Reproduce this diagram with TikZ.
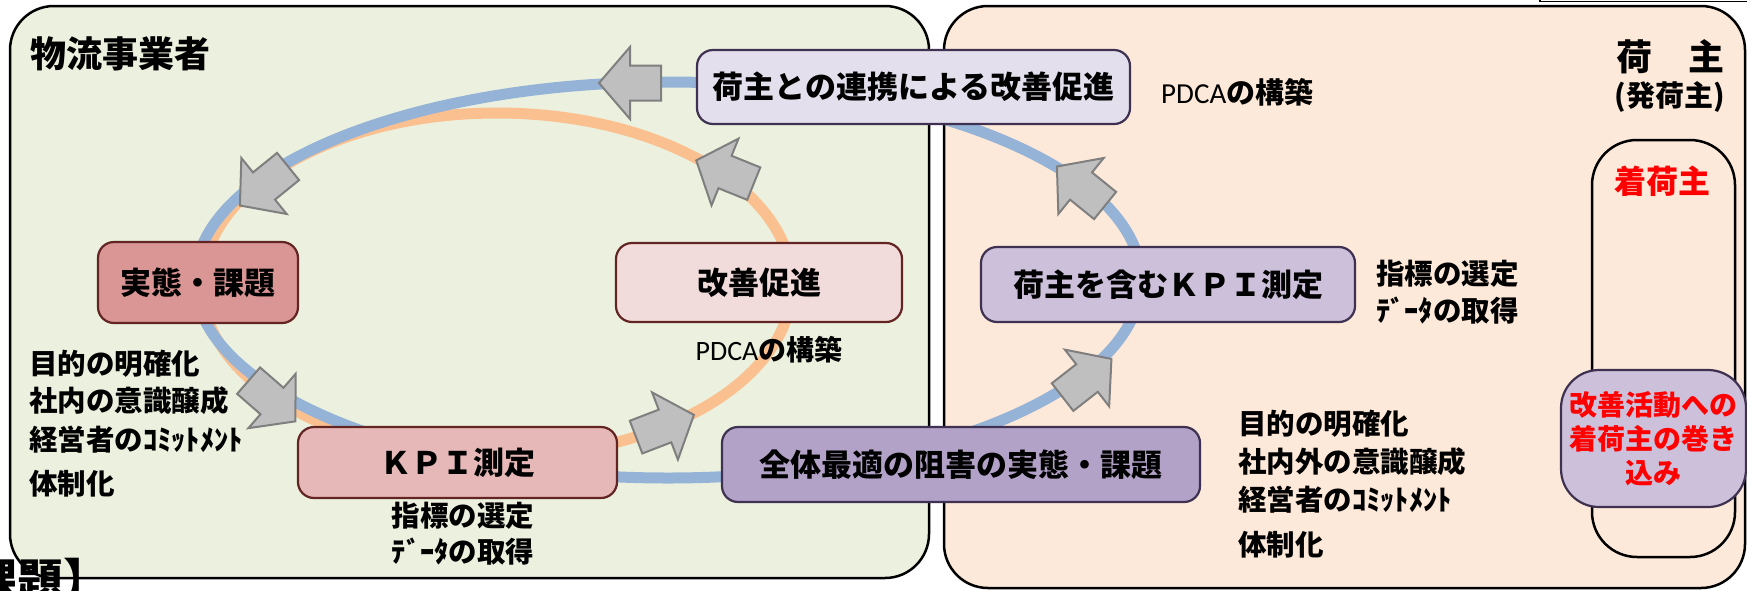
\documentclass[tikz,border=0pt]{standalone}
\usepackage{fontspec}
\setmainfont{Noto Sans CJK JP}
\newfontfamily\carl{Carlito}
\definecolor{blueL}{RGB}{149,179,215}
\definecolor{orangeL}{RGB}{250,192,144}
\definecolor{lgreen}{RGB}{235,241,222}
\definecolor{lpeach}{RGB}{253,233,217}
\definecolor{dred}{RGB}{99,37,35}
\definecolor{dpurple}{RGB}{63,49,81}
\definecolor{pinkA}{RGB}{218,150,148}
\definecolor{pinkB}{RGB}{230,184,183}
\definecolor{pinkC}{RGB}{242,220,219}
\definecolor{lavA}{RGB}{228,223,236}
\definecolor{lavB}{RGB}{204,192,218}
\definecolor{lavC}{RGB}{179,162,199}
\definecolor{arrfill}{RGB}{191,191,191}
\definecolor{arrdraw}{RGB}{127,127,127}
\newcommand\garrow[3]{\draw[grayarr, shift={(#1,#2)}, rotate=#3] (-31,-17.5) -- (0,-17.5) -- (0,-36) -- (31,0) -- (0,36) -- (0,17.5) -- (-31,17.5) -- cycle;}
\begin{document}
\begin{tikzpicture}[x=1pt,y=-1pt,
  panel/.style={draw=black, line width=2.5, rounded corners=44},
  grayarr/.style={fill=arrfill, draw=arrdraw, line width=2, line join=miter},
  box/.style={draw, line width=2.2, rounded corners=16, inner sep=0, font=\bfseries\fontsize{31}{36}\selectfont},
  redbox/.style={box, draw=dred},
  purbox/.style={box, draw=dpurple},
  lbl/.style={inner sep=0, font=\bfseries\fontsize{28.5}{30}\selectfont},
  loop/.style={line width=11}]
\useasboundingbox (0,0) rectangle (1747,590);
% panels
\draw[panel, fill=lgreen] (10,6) rectangle (929,578);
\draw[panel, fill=lpeach] (944,6) rectangle (1745,588);
\draw[line width=1.5] (1540,-10) -- (1540,1.5) -- (1760,1.5);
% loops
\draw[loop, orangeL] (497,285) ellipse [x radius=295pt, y radius=172pt];
\draw[loop, blueL] (668,280) ellipse [x radius=473pt, y radius=198pt];
% arrows
\garrow{630}{83}{180}
\garrow{264}{186}{219}
\garrow{272}{401}{319}
\garrow{665}{426}{21}
\garrow{725}{172}{158}
\garrow{1087}{378}{38}
\garrow{1081}{186}{141}
% inner rect
\draw[line width=2.5, rounded corners=45] (1592,140) rectangle (1735,557);
% boxes
\node[redbox, fill=pinkA, minimum width=200, minimum height=81] (jittai) at (198,282.5) {実態・課題};
\node[redbox, fill=pinkB, minimum width=319, minimum height=71] (kpi) at (457.5,462.5) {ＫＰＩ測定};
\node[redbox, fill=pinkC, minimum width=286, minimum height=79] (kaizen) at (759,282.5) {改善促進};
\node[purbox, fill=lavA, minimum width=433, minimum height=74] (renkei) at (913.5,87) {荷主との連携による改善促進};
\node[purbox, fill=lavB, minimum width=374, minimum height=75] (nkpi) at (1168,284.5) {荷主を含むＫＰＩ測定};
\node[purbox, fill=lavC, minimum width=478, minimum height=75] (zentai) at (961,464.5) {全体最適の阻害の実態・課題};
\node[purbox, fill=lavB, minimum width=185, minimum height=137, rounded corners=38, align=center, text=red, font=\bfseries\fontsize{28}{34}\selectfont] (makikomi) at (1653.5,438.5) {改善活動への\\着荷主の巻き\\込み};
% titles
\node[lbl, anchor=west, font=\bfseries\fontsize{36}{40}\selectfont] (t1) at (30,54) {物流事業者};
\node[lbl, font=\bfseries\fontsize{36}{40}\selectfont] (t2) at (1670,57) {荷　主};
\node[lbl, font=\bfseries\fontsize{29}{32}\selectfont] (t3) at (1670,97) {(発荷主)};
\node[lbl, text=red, font=\bfseries\fontsize{32}{34}\selectfont] (t4) at (1662,181) {着荷主};
% PDCA labels
\node[lbl, anchor=west, font=\fontsize{29}{32}\selectfont] (p1) at (1161,92) {{\carl PDCA}\textbf{の構築}};
\node[lbl, font=\fontsize{28}{32}\selectfont] (p2) at (769,350) {{\carl PDCA}\textbf{の構築}};
% KPI sub labels
\node[lbl] (k1) at (463,516) {指標の選定};
\node[lbl] (k2) at (463,552) {ﾃﾞｰﾀの取得};
\node[lbl, anchor=west] (k3) at (1376,274) {指標の選定};
\node[lbl, anchor=west] (k4) at (1376,311) {ﾃﾞｰﾀの取得};
% left list
\node[lbl, anchor=west] (l1) at (29,364) {目的の明確化};
\node[lbl, anchor=west] (l2) at (29,401) {社内の意識醸成};
\node[lbl, anchor=west] (l3) at (29,440) {経営者のｺﾐｯﾄﾒﾝﾄ};
\node[lbl, anchor=west] (l4) at (29,484) {体制化};
% right list
\node[lbl, anchor=west] (r1) at (1238,424) {目的の明確化};
\node[lbl, anchor=west] (r2) at (1238,462) {社内外の意識醸成};
\node[lbl, anchor=west] (r3) at (1238,500) {経営者のｺﾐｯﾄﾒﾝﾄ};
\node[lbl, anchor=west] (r4) at (1238,545) {体制化};
% cut-off heading
\node[inner sep=0, anchor=base west, font=\bfseries\fontsize{46}{50}\selectfont] (frag) at (-29,597) {課題】};
\end{tikzpicture}
\end{document}
